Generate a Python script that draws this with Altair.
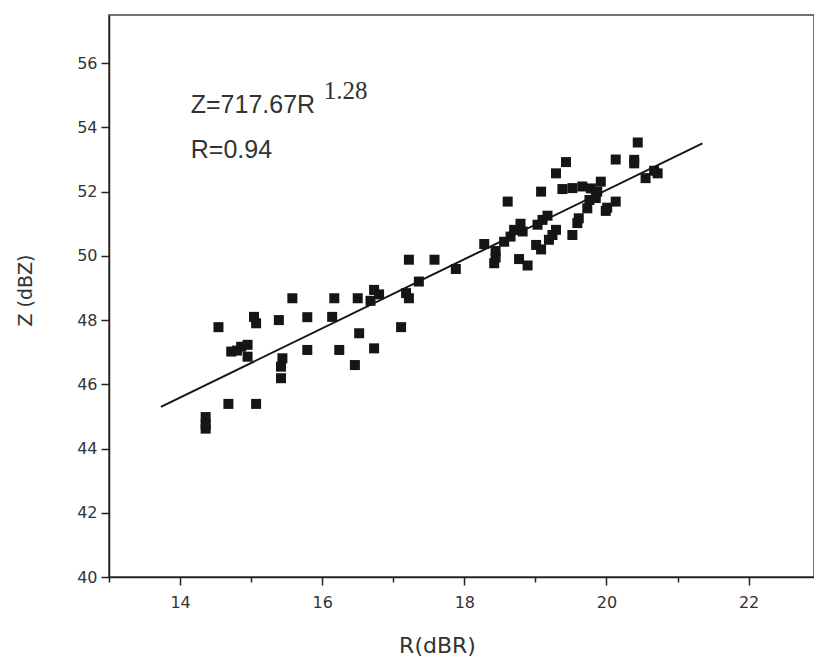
import altair as alt
import pandas as pd

# Scatter data
r_dbr = [14.36, 14.36, 14.36, 14.68, 15.07, 14.54, 14.72, 14.86, 14.95, 14.95, 14.80,
         15.04, 15.07, 15.39, 15.58, 15.44, 15.42, 15.42, 15.79, 15.79, 16.14, 16.17,
         16.24, 16.46, 16.50, 16.52, 16.68, 16.73, 16.80, 16.73, 17.11, 17.18, 17.22,
         17.22, 17.36, 17.58, 17.88, 18.28, 18.44, 18.44, 18.42, 18.56, 18.61, 18.65,
         18.70, 18.79, 18.82, 18.77, 18.89, 19.01, 19.08, 19.03, 19.10, 19.17, 19.08,
         19.19, 19.24, 19.29, 19.29, 19.43, 19.38, 19.52, 19.66, 19.78, 19.52, 19.59,
         19.61, 19.73, 19.76, 19.85, 19.87, 19.92, 19.99, 20.01, 20.13, 20.13, 20.39,
         20.39, 20.44, 20.55, 20.67, 20.72]
z_dbz = [44.98, 44.75, 44.62, 45.39, 45.39, 47.78, 47.02, 47.17, 47.23, 46.86, 47.05,
         48.10, 47.90, 48.00, 48.68, 46.81, 46.55, 46.19, 48.09, 47.07, 48.10, 48.68,
         47.07, 46.60, 48.68, 47.59, 48.60, 48.94, 48.80, 47.12, 47.78, 48.84, 48.68,
         49.88, 49.20, 49.88, 49.59, 50.37, 50.15, 49.95, 49.77, 50.44, 51.69, 50.60,
         50.81, 51.00, 50.76, 49.90, 49.70, 50.34, 50.20, 50.97, 51.12, 51.25, 52.00,
         50.50, 50.65, 50.81, 52.57, 52.92, 52.08, 52.11, 52.16, 52.10, 50.65, 51.02,
         51.17, 51.48, 51.74, 51.80, 52.00, 52.31, 51.40, 51.50, 51.69, 53.00, 52.99,
         52.88, 53.53, 52.42, 52.65, 52.57]

# Fitted line end points
fit_r = [13.73, 21.35]
fit_z = [45.30, 53.50]

# Annotation texts (anchored in data coordinates)
eq_text = ["Z=717.67R", "R=0.94"]
eq_r = [14.15, 14.15]
eq_z = [54.44, 53.04]
exp_text = ["1.28"]
exp_r = [16.02]
exp_z = [54.875]

x_ticks = list(range(13, 23))
y_ticks = list(range(40, 58))

pts = pd.DataFrame({"R": r_dbr, "Z": z_dbz})
fit = pd.DataFrame({"R": fit_r, "Z": fit_z})
eq = pd.DataFrame({"R": eq_r, "Z": eq_z, "t": eq_text})
ex = pd.DataFrame({"R": exp_r, "Z": exp_z, "t": exp_text})

ink = "#222222"
even_label = "datum.value % 2 == 0 ? datum.label : ''"
tick_len = {"condition": {"test": "datum.value % 2 == 0", "value": 8}, "value": 5}

xscale = alt.Scale(domain=[13, 22.92], nice=False, zero=False)
yscale = alt.Scale(domain=[40, 57.5], nice=False, zero=False)

xaxis = alt.Axis(values=x_ticks, format="d", labelExpr=even_label, tickSize=tick_len,
                 tickWidth=1.5, domainWidth=1.5, domainColor=ink, tickColor=ink, grid=False,
                 labelFont="DejaVu Sans", labelFontSize=16, labelColor="#333333",
                 labelPadding=9, labelOverlap=False, labelFlush=False,
                 title="R(dBR)", titleFont="DejaVu Sans", titleFontSize=22,
                 titleFontWeight="normal", titleColor="#333333",
                 titleX=328, titleY=75, titleBaseline="alphabetic")
yaxis = alt.Axis(values=y_ticks, format="d", labelExpr=even_label, tickSize=tick_len,
                 tickWidth=1.5, domainWidth=1.5, domainColor=ink, tickColor=ink, grid=False,
                 labelFont="DejaVu Sans", labelFontSize=16, labelColor="#333333",
                 labelPadding=4, labelOverlap=False, labelFlush=False,
                 title="Z (dBZ)", titleFont="DejaVu Sans", titleFontSize=19,
                 titleFontWeight="normal", titleColor="#333333",
                 titleX=-78, titleY=275, titleBaseline="alphabetic", titleAngle=-90)

base_x = alt.X("R:Q", scale=xscale, axis=xaxis)
base_y = alt.Y("Z:Q", scale=yscale, axis=yaxis)

points = alt.Chart(pts).mark_square(size=100, color="#151515", opacity=1).encode(x=base_x, y=base_y)
line = alt.Chart(fit).mark_line(color="#151515", strokeWidth=2).encode(
    x=alt.X("R:Q", scale=xscale), y=alt.Y("Z:Q", scale=yscale))
eq_marks = alt.Chart(eq).mark_text(font="Liberation Sans", fontSize=25, align="left",
                                   baseline="alphabetic", color="#333333").encode(
    x=alt.X("R:Q", scale=xscale), y=alt.Y("Z:Q", scale=yscale), text="t:N")
ex_marks = alt.Chart(ex).mark_text(font="Liberation Serif", fontSize=25, align="left",
                                   baseline="alphabetic", color="#333333").encode(
    x=alt.X("R:Q", scale=xscale), y=alt.Y("Z:Q", scale=yscale), text="t:N")

chart = alt.layer(points, line, eq_marks, ex_marks).properties(
    width=705, height=562,
    autosize=alt.AutoSizeParams(type="none"),
    padding={"left": 101, "top": 7, "right": 0, "bottom": 79},
    background="white",
).configure_view(stroke="#444444", strokeWidth=1.5)

chart.save("out.html", embed_options={"renderer": "svg", "actions": False})
